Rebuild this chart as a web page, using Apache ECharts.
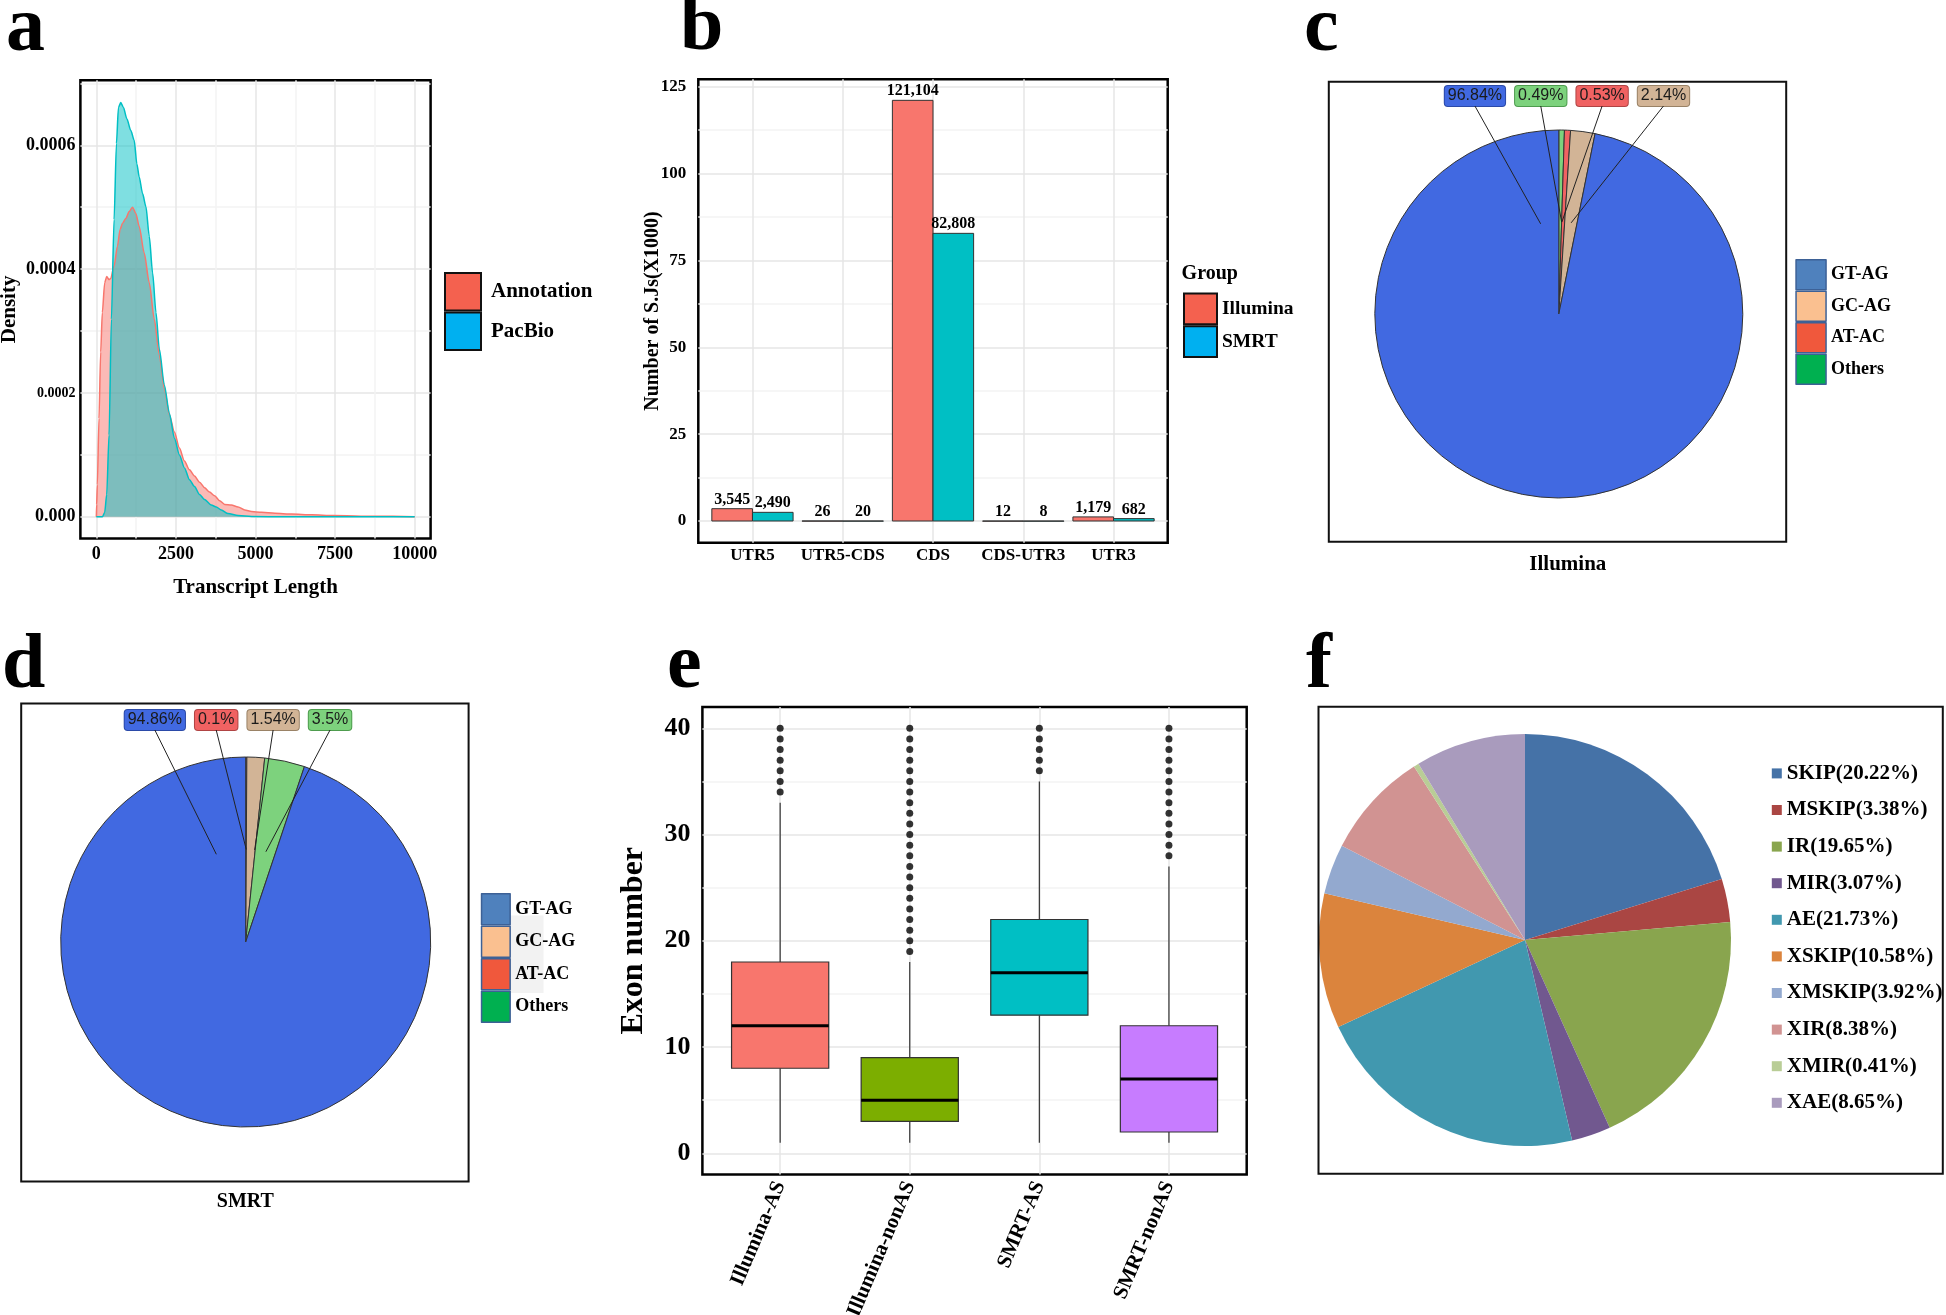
<!DOCTYPE html>
<html>
<head>
<meta charset="utf-8">
<script src="https://cdn.jsdelivr.net/npm/echarts@6/dist/echarts.min.js"></script>
<style>html,body{margin:0;padding:0;background:#fff}#c{width:1946px;height:1315px}</style>
</head>
<body>
<div id="c"></div>
<script>
// ================= DATA =================
// (a) density of transcript length
const densityXTicks = [0, 2500, 5000, 7500, 10000];
const densityYTicks = [0, 0.0002, 0.0004, 0.0006];
const densityYTickLabels = ['0.000', '0.0002', '0.0004', '0.0006'];
const annotationDensity = [
  [0, 0], [10, 0.00002], [32, 0.000052], [84, 0.000159], [137, 0.000266], [189, 0.00033],
  [263, 0.000378], [326, 0.000388], [400, 0.000383], [453, 0.000385], [558, 0.000405],
  [663, 0.000437], [747, 0.000464], [821, 0.000474], [926, 0.000482], [1032, 0.000493],
  [1137, 0.0005], [1242, 0.00049], [1347, 0.000469], [1505, 0.000426], [1663, 0.000378],
  [1821, 0.000319], [1979, 0.000261], [2137, 0.000207], [2295, 0.000165], [2453, 0.000137],
  [2611, 0.000111], [2768, 0.00009], [2926, 0.000076], [3084, 0.000066], [3242, 0.000056],
  [3400, 0.000047], [3558, 0.00004], [3716, 0.000034], [3874, 0.000026], [4032, 0.00002],
  [4242, 0.000019], [4453, 0.000016], [4663, 0.000011], [4874, 0.0000085], [5189, 0.0000072],
  [5610, 0.0000058], [6137, 0.0000045], [6768, 0.0000032], [7450, 0.000002], [8740, 0.000001],
  [10000, 0.0000003]
];
const pacbioDensity = [
  [0, 0], [189, 0], [263, 0.000007], [326, 0.000036], [400, 0.000132], [474, 0.000319],
  [558, 0.00048], [632, 0.000603], [695, 0.000661], [768, 0.000669], [853, 0.000661],
  [958, 0.000643], [1084, 0.000624], [1189, 0.000608], [1274, 0.00057], [1347, 0.000549],
  [1453, 0.000522], [1558, 0.000501], [1663, 0.000453], [1768, 0.000394], [1874, 0.00033],
  [1979, 0.000271], [2137, 0.000213], [2295, 0.000167], [2453, 0.000127], [2611, 0.0001],
  [2768, 0.000079], [2926, 0.00006], [3084, 0.000049], [3242, 0.000036], [3400, 0.000028],
  [3611, 0.000019], [3768, 0.000016], [3926, 0.000011], [4137, 0.0000053], [4453, 0.0000021],
  [4874, 0.0000005], [6000, 0.0000001], [10000, 0]
];

// (b) splice junctions by region
const sjCategories = ['UTR5', 'UTR5-CDS', 'CDS', 'CDS-UTR3', 'UTR3'];
const illuminaSJ = [3545, 26, 121104, 12, 1179];
const smrtSJ = [2490, 20, 82808, 8, 682];
const sjYTicks = [0, 25, 50, 75, 100, 125];

// (c) Illumina splice motifs (clockwise order from 12 o'clock)
const illuminaMotifNames = ['Others', 'AT-AC', 'GC-AG', 'GT-AG'];
const illuminaMotifPct = [0.49, 0.53, 2.14, 96.84];
// (d) SMRT splice motifs
const smrtMotifNames = ['AT-AC', 'GC-AG', 'Others', 'GT-AG'];
const smrtMotifPct = [0.1, 1.54, 3.5, 94.86];
const motifLegendNames = ['GT-AG', 'GC-AG', 'AT-AC', 'Others'];

// (e) exon number boxplots: [lowerWhisker, Q1, median, Q3, upperWhisker]
const exonGroups = ['Illumina-AS', 'Illumina-nonAS', 'SMRT-AS', 'SMRT-nonAS'];
const exonBoxStats = [[1, 8, 12, 18, 33], [1, 3, 5, 9, 18], [1, 13, 17, 22, 35], [1, 2, 7, 12, 27]];
const exonOutliers = [
  [34, 35, 36, 37, 38, 39, 40],
  [19, 20, 21, 22, 23, 24, 25, 26, 27, 28, 29, 30, 31, 32, 33, 34, 35, 36, 37, 38, 39, 40],
  [36, 37, 38, 39, 40],
  [28, 29, 30, 31, 32, 33, 34, 35, 36, 37, 38, 39, 40]
];
const exonYTicks = [0, 10, 20, 30, 40];

// (f) AS event types
const asTypes = ['SKIP', 'MSKIP', 'IR', 'MIR', 'AE', 'XSKIP', 'XMSKIP', 'XIR', 'XMIR', 'XAE'];
const asPct = [20.22, 3.38, 19.65, 3.07, 21.73, 10.58, 3.92, 8.38, 0.41, 8.65];

// ================= STYLE =================
const SERIF = '"Liberation Serif", "Times New Roman", serif';
const SANS = '"Liberation Sans", Arial, sans-serif';
const MAJOR = '#e6e6e6', MINOR = '#f3f3f3', NONE = 'rgba(0,0,0,0)';
const motifSliceColors = { 'GT-AG': '#4169E1', 'GC-AG': '#D2B496', 'AT-AC': '#F06262', 'Others': '#7DD27D' };
const motifLabelBorder = { 'GT-AG': '#2B4AA8', 'GC-AG': '#9A8266', 'AT-AC': '#B04444', 'Others': '#4E9C4E' };
const motifLegendColors = { 'GT-AG': '#4F81BD', 'GC-AG': '#FAC090', 'AT-AC': '#F0583C', 'Others': '#00B050' };
const exonColors = ['#F8766D', '#7CAE00', '#00BFC4', '#C77CFF'];
const asColors = ['#4572A7', '#AA4643', '#89A54E', '#71588F', '#4198AF', '#DB843D', '#93A9CF', '#D19392', '#B9CD96', '#A99BBD'];

const GA = { left: 80.4, top: 80.3, width: 350.2, height: 458.2 };
const GB = { left: 698.3, top: 79.3, width: 469.4, height: 463.4 };
const GE = { left: 702.4, top: 707, width: 544.3, height: 467.5 };
const PC = { cx: 1558.8, cy: 314, r: 184, labelY: 96, rowStart: -115 };
const PD = { cx: 245.7, cy: 942, r: 185, labelY: 720, rowStart: -122 };
const PF = { cx: 1525, cy: 940, r: 206 };

function gridColors(min, max, interval, majorStep, minorStep) {
  const out = [];
  const n = Math.floor((max - min) / interval + 1e-9);
  for (let i = 0; i <= n + 2; i++) {
    const v = min + i * interval;
    const isMaj = Math.abs(v / majorStep - Math.round(v / majorStep)) < 1e-6;
    const isMin = minorStep && Math.abs(v / minorStep - Math.round(v / minorStep)) < 1e-6;
    out.push(isMaj ? MAJOR : (isMin ? MINOR : NONE));
  }
  return out;
}
function labelAt(ticks, labels, tol) {
  return function (v) {
    for (let k = 0; k < ticks.length; k++) if (Math.abs(v - ticks[k]) < tol) return labels[k];
    return '';
  };
}
const boldSerif = (size) => ({ fontFamily: SERIF, fontWeight: 'bold', fontSize: size, color: '#000' });

// measure pie label widths
const mctx = document.createElement('canvas').getContext('2d');
mctx.font = '16px "Liberation Sans"';
const pieLabelW = (p) => mctx.measureText(p + '%').width + 8;

// label row + leader geometry derived from the pie values and pie geometry
function motifLabelGeom(pct, P) {
  const n = pct.length;
  const order = [n - 1];
  for (let k = 0; k < n - 1; k++) order.push(k);
  const geom = [];
  let x = P.cx + P.rowStart;
  order.forEach((idx) => {
    const w = pieLabelW(pct[idx]);
    const th = pct[idx] / 100 * 2 * Math.PI;
    geom[idx] = {
      lx: x + w / 2, ly: P.labelY,
      ex: P.cx + 0.5 * P.r * Math.sin(th), ey: P.cy - 0.5 * P.r * Math.cos(th)
    };
    x += w + 8;
  });
  return geom;
}

function motifPie(names, pct, P) {
  const geom = motifLabelGeom(pct, P);
  return {
    type: 'pie', center: [P.cx, P.cy], radius: P.r, startAngle: 90, clockwise: true,
    avoidLabelOverlap: false, silent: true, animation: false,
    emphasis: { disabled: true },
    itemStyle: { borderColor: '#333', borderWidth: 1 },
    data: names.map((nm, i) => ({
      name: nm, value: pct[i],
      itemStyle: { color: motifSliceColors[nm] },
      label: { backgroundColor: motifSliceColors[nm], borderColor: motifLabelBorder[nm] }
    })),
    label: {
      show: true, position: 'outside', formatter: (p) => p.value + '%',
      fontFamily: SANS, fontSize: 16, lineHeight: 16, color: '#1a1a1a',
      padding: [2, 3, 2, 3], borderWidth: 1, borderRadius: 3
    },
    labelLine: { show: false },
    labelLayout: function (params) {
      const g = geom[params.dataIndex];
      return { x: g.lx, y: g.ly, align: 'center', verticalAlign: 'middle' };
    }
  };
}
function motifLeaders(pct, P) {
  return motifLabelGeom(pct, P).map((g) => ({
    type: 'polyline', silent: true, z: 100,
    shape: { points: [[g.lx, g.ly + 10], [g.ex, g.ey]] },
    style: { stroke: '#222', lineWidth: 1, fill: 'none' }
  }));
}

function sjBars(name, counts, side, color) {
  return {
    name: name, type: 'custom', xAxisIndex: 1, yAxisIndex: 1,
    itemStyle: { color: color },
    data: counts.map((c, i) => [i + 1, c / 1000, c]),
    encode: { x: 0, y: 1 },
    renderItem: function (params, api) {
      const xv = api.value(0), v = api.value(1);
      const p0 = api.coord([xv, 0]), p1 = api.coord([xv, v]);
      const w = api.size([0.45, 0])[0];
      const x0 = side < 0 ? p0[0] - w : p0[0];
      return {
        type: 'group', children: [
          { type: 'rect', shape: { x: x0, y: p1[1], width: w, height: Math.max(p0[1] - p1[1], 0.3) },
            style: { fill: color, stroke: '#333', lineWidth: 1 } },
          { type: 'text', x: x0 + w / 2, y: p1[1] - 1,
            style: { text: api.value(2).toLocaleString('en-US'), align: 'center', verticalAlign: 'bottom',
              fontFamily: SERIF, fontWeight: 'bold', fontSize: 16, fill: '#000' } }
        ]
      };
    }
  };
}

const letters = [['a', 6, 61], ['b', 680, 60], ['c', 1304, 61], ['d', 2, 698], ['e', 667, 698], ['f', 1306, 698]];
const LF = 78;

const option = {
  animation: false,
  backgroundColor: '#fff',
  grid: [
    Object.assign({ show: true, borderColor: '#000', borderWidth: 2.5, backgroundColor: '#fff', containLabel: false, outerBoundsMode: 'none' }, GA),
    Object.assign({ show: true, borderColor: '#000', borderWidth: 2.5, backgroundColor: '#fff', containLabel: false, outerBoundsMode: 'none' }, GB),
    Object.assign({ show: true, borderColor: '#000', borderWidth: 2.5, backgroundColor: '#fff', containLabel: false, outerBoundsMode: 'none' }, GE)
  ],
  xAxis: [
    { gridIndex: 0, type: 'value', min: -500, max: 10500, interval: 250,
      axisLine: { show: false }, axisTick: { show: false },
      axisLabel: Object.assign({ formatter: labelAt(densityXTicks, densityXTicks.map(String), 1), margin: 7 }, boldSerif(18)),
      splitLine: { show: true, lineStyle: { color: gridColors(-500, 10500, 250, 2500, 1250), width: 1.5 } },
      name: 'Transcript Length', nameLocation: 'middle', nameGap: 39, nameMoveOverlap: false, nameTextStyle: boldSerif(21) },
    { gridIndex: 1, type: 'value', min: 0.4, max: 5.6, interval: 0.2,
      axisLine: { show: false }, axisTick: { show: false },
      axisLabel: Object.assign({ formatter: labelAt([1, 2, 3, 4, 5], sjCategories, 0.01), margin: 4 }, boldSerif(17)),
      splitLine: { show: true, lineStyle: { color: gridColors(0.4, 5.6, 0.2, 1, null), width: 1.5 } } },
    { gridIndex: 2, type: 'value', min: 0.4, max: 4.6, interval: 0.2,
      axisLine: { show: false }, axisTick: { show: false },
      axisLabel: Object.assign({ formatter: labelAt([1, 2, 3, 4], exonGroups, 0.01), margin: 8, rotate: 67 }, boldSerif(21)),
      splitLine: { show: true, lineStyle: { color: gridColors(0.4, 4.6, 0.2, 1, null), width: 1.5 } } }
  ],
  yAxis: [
    { gridIndex: 0, type: 'value', min: -0.000035, max: 0.000705, interval: 0.000005,
      axisLine: { show: false }, axisTick: { show: false },
      axisLabel: Object.assign({
        formatter: labelAt(densityYTicks, densityYTickLabels.map(s => s === '0.0002' ? '{s|' + s + '}' : s), 0.000001),
        margin: 5, rich: { s: { fontFamily: SERIF, fontWeight: 'bold', fontSize: 14, color: '#000' } }
      }, boldSerif(18)),
      splitLine: { show: true, lineStyle: { color: gridColors(-0.000035, 0.000705, 0.000005, 0.0002, 0.0001), width: 1.5 } },
      name: 'Density', nameLocation: 'middle', nameGap: 60, nameMoveOverlap: false, nameTextStyle: boldSerif(21) },
    { gridIndex: 1, type: 'value', min: -6.25, max: 127.16, interval: 6.25,
      axisLine: { show: false }, axisTick: { show: false },
      axisLabel: Object.assign({ formatter: labelAt(sjYTicks, sjYTicks.map(String), 0.1), margin: 12 }, boldSerif(17)),
      splitLine: { show: true, lineStyle: { color: gridColors(-6.25, 127.16, 6.25, 25, 12.5), width: 1.5 } },
      name: 'Number of S.Js(X1000)', nameLocation: 'middle', nameGap: 35, nameMoveOverlap: false, nameTextStyle: boldSerif(20) },
    { gridIndex: 2, type: 'value', min: -2, max: 42, interval: 1,
      axisLine: { show: false }, axisTick: { show: false },
      axisLabel: Object.assign({ formatter: labelAt(exonYTicks, exonYTicks.map(String), 0.1), margin: 12 }, boldSerif(26)),
      splitLine: { show: true, lineStyle: { color: gridColors(-2, 42, 1, 10, 5), width: 1.5 } },
      name: 'Exon number', nameLocation: 'middle', nameGap: 53, nameMoveOverlap: false, nameTextStyle: boldSerif(32) }
  ],
  legend: [
    { data: [{ name: 'Annotation', itemStyle: { color: '#F4614F' } }, { name: 'PacBio', itemStyle: { color: '#00B0F0' } }],
      orient: 'vertical', left: 444, top: 272, itemWidth: 36, itemHeight: 37.5, itemGap: 0, icon: 'rect', padding: 0,
      selectedMode: false, itemStyle: { borderColor: '#111', borderWidth: 2 },
      textStyle: Object.assign({ padding: [0, 0, 0, 5] }, boldSerif(21)) },
    { data: [{ name: 'Illumina', itemStyle: { color: '#F4614F' } }, { name: 'SMRT', itemStyle: { color: '#00B0F0' } }],
      orient: 'vertical', left: 1183, top: 292.6, itemWidth: 33, itemHeight: 30.7, itemGap: 0, icon: 'rect', padding: 0,
      selectedMode: false, itemStyle: { borderColor: '#111', borderWidth: 2 },
      textStyle: boldSerif(19.5) },
    { data: motifLegendNames.map(n => ({ name: n, itemStyle: { color: motifLegendColors[n] } })),
      orient: 'vertical', left: 1795.3, top: 259, itemWidth: 30, itemHeight: 30, itemGap: 0, icon: 'rect', padding: 0,
      selectedMode: false, itemStyle: { borderColor: '#3D6196', borderWidth: 1.5 },
      textStyle: boldSerif(18) },
    { data: motifLegendNames.map(n => ({ name: n, itemStyle: { color: motifLegendColors[n] } })),
      orient: 'vertical', left: 480.8, top: 893, itemWidth: 28.6, itemHeight: 31, itemGap: 0, icon: 'rect', padding: 0,
      selectedMode: false, itemStyle: { borderColor: '#3D6196', borderWidth: 1.5 },
      textStyle: boldSerif(18) },
    { data: asTypes, orient: 'vertical', left: 1771.8, top: 762.4, itemWidth: 10, itemHeight: 10, itemGap: 14.6,
      icon: 'rect', padding: 0, selectedMode: false, itemStyle: { borderWidth: 0 },
      formatter: (name) => name + '(' + asPct[asTypes.indexOf(name)].toFixed(2) + '%)',
      textStyle: Object.assign({ lineHeight: 22 }, boldSerif(21)) }
  ],
  graphic: [
    ...letters.map(([t, x, base]) => ({
      type: 'text', x: x, y: base - 0.405 * LF, silent: true,
      style: { text: t, fontFamily: SERIF, fontWeight: 'bold', fontSize: LF, fill: '#000', align: 'left', verticalAlign: 'middle' }
    })),
    { type: 'rect', silent: true, z: -1, shape: { x: 509.5, y: 915.5, width: 34, height: 77.5 }, style: { fill: '#f2f2f2' } },
    { type: 'rect', silent: true, shape: { x: 1328.8, y: 81.8, width: 457.4, height: 459.9 }, style: { fill: 'none', stroke: '#111', lineWidth: 2 }, z: 100 },
    { type: 'rect', silent: true, shape: { x: 21.2, y: 703.5, width: 447.4, height: 478 }, style: { fill: 'none', stroke: '#111', lineWidth: 2 }, z: 100 },
    { type: 'rect', silent: true, shape: { x: 1318.5, y: 706.7, width: 624.3, height: 467.1 }, style: { fill: 'none', stroke: '#111', lineWidth: 2 }, z: 100 },
    ...motifLeaders(illuminaMotifPct, PC),
    ...motifLeaders(smrtMotifPct, PD),
    { type: 'text', x: 1567.8, y: 564.6, silent: true, style: { text: 'Illumina', fontFamily: SERIF, fontWeight: 'bold', fontSize: 21, fill: '#000', align: 'center', verticalAlign: 'middle' } },
    { type: 'text', x: 245.3, y: 1201.8, silent: true, style: { text: 'SMRT', fontFamily: SERIF, fontWeight: 'bold', fontSize: 20, fill: '#000', align: 'center', verticalAlign: 'middle' } },
    { type: 'text', x: 1181.6, y: 273.6, silent: true, style: { text: 'Group', fontFamily: SERIF, fontWeight: 'bold', fontSize: 20, fill: '#000', align: 'left', verticalAlign: 'middle' } }
  ],
  series: [
    { name: 'Annotation', type: 'line', xAxisIndex: 0, yAxisIndex: 0, data: annotationDensity,
      symbol: 'none', showSymbol: false, smooth: 0.25, smoothMonotone: 'x',
      lineStyle: { color: '#F8766D', width: 1.5 }, itemStyle: { color: '#F8766D' },
      areaStyle: { color: '#F8766D', opacity: 0.5, origin: 'auto' }, silent: true },
    { name: 'PacBio', type: 'line', xAxisIndex: 0, yAxisIndex: 0, data: pacbioDensity,
      symbol: 'none', showSymbol: false, smooth: 0.25, smoothMonotone: 'x',
      lineStyle: { color: '#00BFC4', width: 1.5 }, itemStyle: { color: '#00BFC4' },
      areaStyle: { color: '#00BFC4', opacity: 0.5, origin: 'auto' }, silent: true },
    sjBars('Illumina', illuminaSJ, -1, '#F8766D'),
    sjBars('SMRT', smrtSJ, 1, '#00BFC4'),
    motifPie(illuminaMotifNames, illuminaMotifPct, PC),
    motifPie(smrtMotifNames, smrtMotifPct, PD),
    { name: 'Exon', type: 'custom', xAxisIndex: 2, yAxisIndex: 2,
      data: exonBoxStats.map((s, i) => [i + 1].concat(s)),
      encode: { x: 0, y: [1, 2, 3, 4, 5] },
      renderItem: function (params, api) {
        const xv = api.value(0);
        const lo = api.value(1), q1 = api.value(2), md = api.value(3), q3 = api.value(4), hi = api.value(5);
        const cx = api.coord([xv, md])[0];
        const y = (v) => api.coord([xv, v])[1];
        const w = api.size([0.75, 0])[0];
        const col = exonColors[params.dataIndex];
        return {
          type: 'group', children: [
            { type: 'line', shape: { x1: cx, y1: y(lo), x2: cx, y2: y(q1) }, style: { stroke: '#333', lineWidth: 1.2 } },
            { type: 'line', shape: { x1: cx, y1: y(q3), x2: cx, y2: y(hi) }, style: { stroke: '#333', lineWidth: 1.2 } },
            { type: 'rect', shape: { x: cx - w / 2, y: y(q3), width: w, height: y(q1) - y(q3) }, style: { fill: col, stroke: '#333', lineWidth: 1.2 } },
            { type: 'line', shape: { x1: cx - w / 2, y1: y(md), x2: cx + w / 2, y2: y(md) }, style: { stroke: '#000', lineWidth: 3 } }
          ]
        };
      }, silent: true },
    { name: 'Outliers', type: 'scatter', xAxisIndex: 2, yAxisIndex: 2,
      data: exonOutliers.flatMap((arr, i) => arr.map(v => [i + 1, v])),
      symbol: 'circle', symbolSize: 7, itemStyle: { color: '#000' }, silent: true, z: 5 },
    { name: 'AS', type: 'pie', center: [PF.cx, PF.cy], radius: PF.r, startAngle: 90, clockwise: true,
      silent: true, emphasis: { disabled: true }, label: { show: false }, labelLine: { show: false },
      itemStyle: { borderWidth: 0 },
      data: asTypes.map((t, i) => ({ name: t, value: asPct[i], itemStyle: { color: asColors[i] } })) }
  ]
};

const chart = echarts.init(document.getElementById('c'), null, { renderer: 'canvas', width: 1946, height: 1315 });
chart.setOption(option);
</script>
</body>
</html>
